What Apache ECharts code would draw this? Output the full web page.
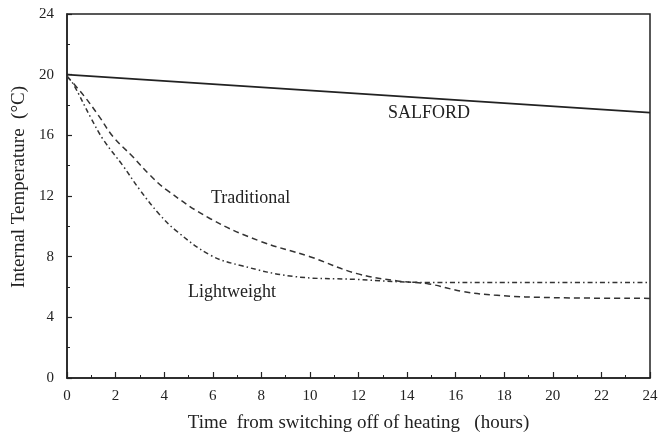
<!DOCTYPE html>
<html><head><meta charset="utf-8">
<script src="https://cdn.jsdelivr.net/npm/echarts@6/dist/echarts.min.js"></script>
<style>html,body{margin:0;padding:0;background:#fff}#c{width:662px;height:439px}</style>
</head><body><div id="c"></div>
<script>
const xTicks = [0,2,4,6,8,10,12,14,16,18,20,22,24];
const yTicks = [0,4,8,12,16,20,24];
const salfordT = [0, 24];
const salfordV = [20.0, 17.5];
const traditionalT = [0, 0.7, 1.3, 1.9, 2.7, 3.4, 4.1, 5.9, 7.9, 10.0, 11.9, 13.6, 14.9, 16.3, 17.7, 20, 24];
const traditionalV = [19.9, 18.6, 17.3, 15.9, 14.6, 13.4, 12.4, 10.5, 9.05, 8.0, 6.9, 6.4, 6.2, 5.7, 5.45, 5.3, 5.25];
const lightweightT = [0, 0.25, 1.0, 1.5, 2.3, 3.0, 3.8, 4.5, 5.9, 7.2, 9.3, 11.9, 14.9, 18, 24];
const lightweightV = [19.9, 19.4, 17.1, 15.7, 14.0, 12.4, 10.8, 9.7, 8.1, 7.4, 6.7, 6.5, 6.3, 6.3, 6.3];
const xTitle = 'Time  from switching off of heating   (hours)';
const yTitle = 'Internal Temperature  (°C)';

const zip = (a,b) => a.map((v,i)=>[v,b[i]]);
const font = 'Liberation Serif';
const ink = '#222';
const chart = echarts.init(document.getElementById('c'));
chart.setOption({
  animation:false,
  backgroundColor:'#fff',
  grid:{left:67,right:12,top:14,bottom:61,show:true,borderColor:ink,borderWidth:1.5},
  xAxis:{type:'value',min:0,max:24,interval:2,
    name:xTitle,nameLocation:'middle',nameGap:36,
    nameTextStyle:{fontFamily:font,fontSize:19,color:ink},
    axisLine:{lineStyle:{color:ink,width:1.5}},
    axisTick:{inside:true,length:6,lineStyle:{color:ink,width:1.2}},
    minorTick:{show:true,splitNumber:2,length:3,lineStyle:{color:ink}},
    splitLine:{show:false},
    axisLabel:{fontFamily:font,fontSize:15,color:ink,margin:11,
      formatter:v=>xTicks.includes(v)?String(v):''}},
  yAxis:{type:'value',min:0,max:24,interval:4,
    axisLine:{lineStyle:{color:ink,width:1.5}},
    axisTick:{inside:true,length:5,lineStyle:{color:ink,width:1.2}},
    minorTick:{show:true,splitNumber:2,length:3,lineStyle:{color:ink}},
    splitLine:{show:false},
    axisLabel:{fontFamily:font,fontSize:15,color:ink,margin:13,
      formatter:v=>yTicks.includes(v)?String(v):''}},
  series:[
    {type:'line',data:zip(salfordT,salfordV),symbol:'none',
      lineStyle:{color:ink,width:1.6}},
    {type:'line',data:zip(traditionalT,traditionalV),symbol:'none',smooth:0.4,
      lineStyle:{color:'#333',width:1.5,type:[6,4]}},
    {type:'line',data:zip(lightweightT,lightweightV),symbol:'none',smooth:0.4,
      lineStyle:{color:'#333',width:1.5,type:[5,3,1.5,3]}}
  ],
  graphic:[
    {type:'text',x:19,y:187,rotation:Math.PI/2,
      style:{text:yTitle,font:'19px "Liberation Serif"',fill:ink,align:'center',verticalAlign:'middle'}},
    {type:'text',left:388,top:104,style:{text:'SALFORD',font:'18px "Liberation Serif"',fill:ink}},
    {type:'text',left:211,top:189,style:{text:'Traditional',font:'18px "Liberation Serif"',fill:ink}},
    {type:'text',left:188,top:283,style:{text:'Lightweight',font:'18px "Liberation Serif"',fill:ink}}
  ]
});
</script></body></html>
